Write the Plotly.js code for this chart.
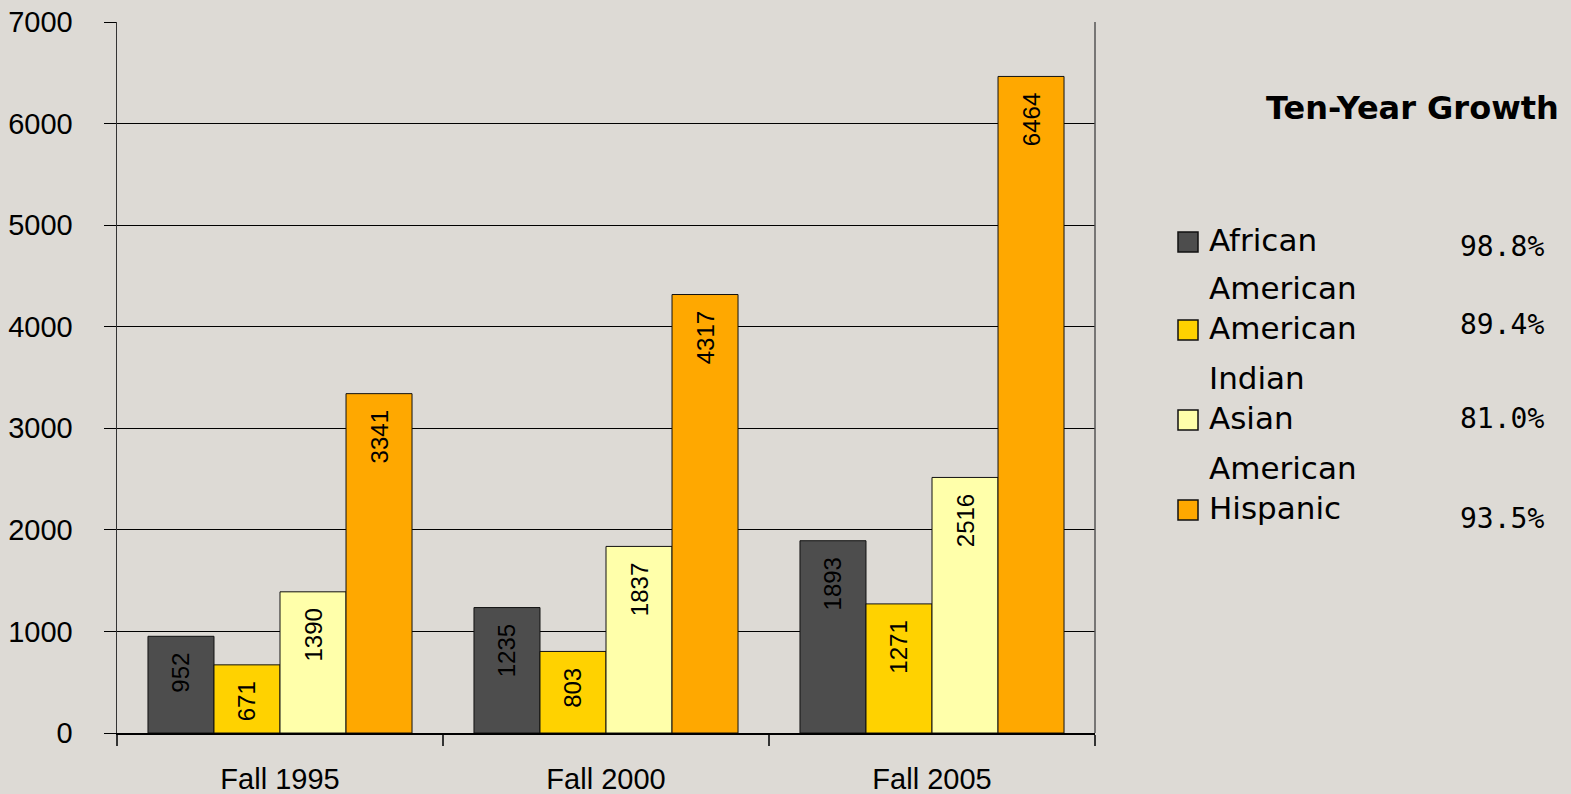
<!DOCTYPE html>
<html>
<head>
<meta charset="utf-8">
<script src="https://cdn.plot.ly/plotly-3.0.1.min.js"></script>
<style>
  html, body { margin: 0; padding: 0; background: #dddad5; }
  #chart { width: 1571px; height: 794px; }
</style>
</head>
<body>
<div id="chart"></div>
<script>
// ---- Data ----
const categories = ["Fall 1995", "Fall 2000", "Fall 2005"];
const seriesNames = ["African American", "American Indian", "Asian American", "Hispanic"];
const legendLines = [["African", "American"], ["American", "Indian"], ["Asian", "American"], ["Hispanic"]];
const africanAmerican = [952, 1235, 1893];
const americanIndian = [671, 803, 1271];
const asianAmerican = [1390, 1837, 2516];
const hispanic = [3341, 4317, 6464];
const growth = ["98.8%", "89.4%", "81.0%", "93.5%"];
const yTicks = [0, 1000, 2000, 3000, 4000, 5000, 6000, 7000];
const growthTitle = "Ten-Year Growth";

const seriesValues = [africanAmerican, americanIndian, asianAmerican, hispanic];
const colors = ["#4d4d4d", "#ffd200", "#ffffaa", "#ffa800"];

const traces = seriesValues.map((vals, i) => ({
  type: "bar",
  name: seriesNames[i],
  x: categories,
  y: vals,
  text: vals.map(v => String(v) + "\u00a0\u00a0"),
  textposition: "inside",
  insidetextanchor: "end",
  textangle: -90,
  constraintext: "none",
  textfont: { family: "Liberation Sans, Arial, sans-serif", size: 24, color: "#000" },
  marker: { color: colors[i], line: { color: "#111", width: 1 } },
  hoverinfo: "skip",
  showlegend: false
}));

// Legend built from annotations & shapes (paper coords)
const annotations = [];
const shapes = [];
const W = 1571, H = 794;
const mL = 117, mR = 476, mT = 22, mB = 61;
const pw = W - mL - mR, ph = H - mT - mB;
const px = x => (x - mL) / pw;
const py = y => 1 - (y - mT) / ph;

annotations.push({
  xref: "paper", yref: "paper", x: px(1412), y: py(108),
  xanchor: "center", yanchor: "middle", showarrow: false,
  text: growthTitle,
  font: { family: "DejaVu Sans, sans-serif", size: 32, color: "#000", weight: "bold" }
});

const firstLineY = [240, 328, 418, 508];
const secondLineY = [288, 378, 468, null];
const pctY = [246, 324, 418, 518];
legendLines.forEach((lines, i) => {
  lines.forEach((t, j) => {
    const yy = j === 0 ? firstLineY[i] : secondLineY[i];
    annotations.push({
      xref: "paper", yref: "paper", x: px(1207), y: py(yy),
      xanchor: "left", yanchor: "middle", showarrow: false,
      text: t,
      font: { family: "DejaVu Sans, sans-serif", size: 31, color: "#000" }
    });
  });
  annotations.push({
    xref: "paper", yref: "paper", x: px(1546), y: py(pctY[i]),
    xanchor: "right", yanchor: "middle", showarrow: false,
    text: growth[i],
    font: { family: "DejaVu Sans Mono, monospace", size: 28, color: "#000" }
  });
  const cy = firstLineY[i] + 2;
  shapes.push({
    type: "rect", xref: "paper", yref: "paper",
    x0: px(1178), x1: px(1198), y0: py(cy + 10), y1: py(cy - 10),
    fillcolor: colors[i], line: { color: "#111", width: 1.5 }
  });
});

const layout = {
  width: W, height: H,
  paper_bgcolor: "#dddad5",
  plot_bgcolor: "rgba(0,0,0,0)",
  margin: { l: mL, r: mR, t: mT, b: mB, pad: 0 },
  barmode: "group",
  bargap: 0.19,
  bargroupgap: 0,
  showlegend: false,
  font: { family: "Liberation Sans, Arial, sans-serif", color: "#000" },
  xaxis: {
    type: "category",
    showline: true, linecolor: "#000", linewidth: 1.5, mirror: false,
    ticks: "outside", tickson: "boundaries", ticklen: 11, tickcolor: "#333", tickwidth: 1.5,
    tickfont: { family: "Liberation Sans, Arial, sans-serif", size: 29, color: "#000" },
    ticklabelstandoff: 20,
    showgrid: false, zeroline: false, fixedrange: true
  },
  yaxis: {
    range: [0, 7000],
    tickvals: yTicks,
    ticktext: yTicks.map(String),
    showline: true, linecolor: "#333", linewidth: 1.5, mirror: false,
    ticks: "outside", ticklen: 12, tickcolor: "#000", tickwidth: 1,
    tickfont: { family: "Liberation Sans, Arial, sans-serif", size: 29, color: "#000" },
    ticklabelstandoff: 25,
    showgrid: true, gridcolor: "#000", gridwidth: 1,
    zeroline: false, fixedrange: true
  },
  annotations: annotations,
  shapes: shapes.concat([
    { type: "line", xref: "paper", yref: "paper", x0: 1, x1: 1, y0: 0, y1: 1,
      line: { color: "#555", width: 1.5 } }
  ])
};

Plotly.newPlot("chart", traces, layout, { displayModeBar: false, staticPlot: true });
</script>
</body>
</html>
